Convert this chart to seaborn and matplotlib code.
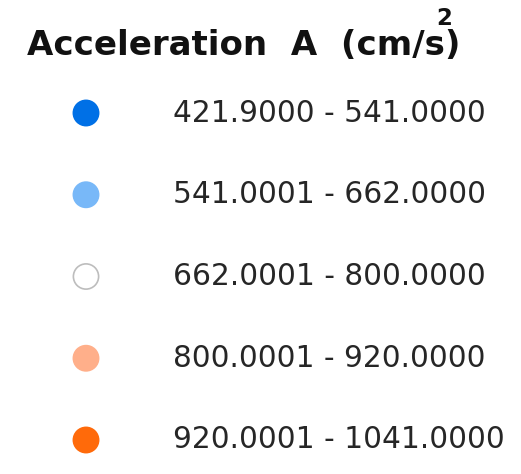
import matplotlib
matplotlib.use("Agg")
import matplotlib.pyplot as plt
import seaborn as sns
import pandas as pd

# Class breaks for acceleration A (cm/s^2)
class_labels = [
    "421.9000 - 541.0000",
    "541.0001 - 662.0000",
    "662.0001 - 800.0000",
    "800.0001 - 920.0000",
    "920.0001 - 1041.0000",
]
class_colors = ["#0070E6", "#78B8F8", "#FFFFFF", "#FFAF8A", "#FF6A0A"]
edge_colors = ["#0070E6", "#78B8F8", "#BDBDBD", "#FFAF8A", "#FF6A0A"]

df = pd.DataFrame({
    "label": class_labels,
    "row": list(range(len(class_labels))),
    "col": [0] * len(class_labels),
})

sns.set_theme(style="white")
plt.rcParams["font.family"] = ["DejaVu Sans"]

W, H = 521, 474
fig = plt.figure(figsize=(W / 100, H / 100), dpi=100)
ax = fig.add_axes([0, 0, 1, 1])

sns.scatterplot(
    data=df, x="col", y="row", hue="label",
    palette=dict(zip(class_labels, class_colors)),
    s=330, linewidth=1.2, edgecolor=edge_colors, legend=False, ax=ax,
)

# Map rows so entries sit evenly under the title
step = 81.75
top_px = 113
ax.set_ylim(len(class_labels) - 1 + (H - (top_px + 4 * step)) / step, -top_px / step)
ax.set_xlim(-86, W - 86)
ax.set_axis_off()

for _, r in df.iterrows():
    ax.text(r["col"] + 87, r["row"], r["label"], fontsize=21.3,
            color="#262626", va="center", ha="left")

title = fig.text(27 / W, 1 - 55 / H, "Acceleration  A  (cm/s)", fontsize=24.5,
                 fontweight="bold", color="#111111", ha="left", va="baseline")
renderer = fig.canvas.get_renderer()
bb = title.get_window_extent(renderer)
fig.text((bb.x1 - 24) / W, 1 - 25 / H, "2", fontsize=16.5, fontweight="bold",
         color="#111111", ha="left", va="baseline")

fig.savefig("out.png", dpi=100, facecolor="white")
